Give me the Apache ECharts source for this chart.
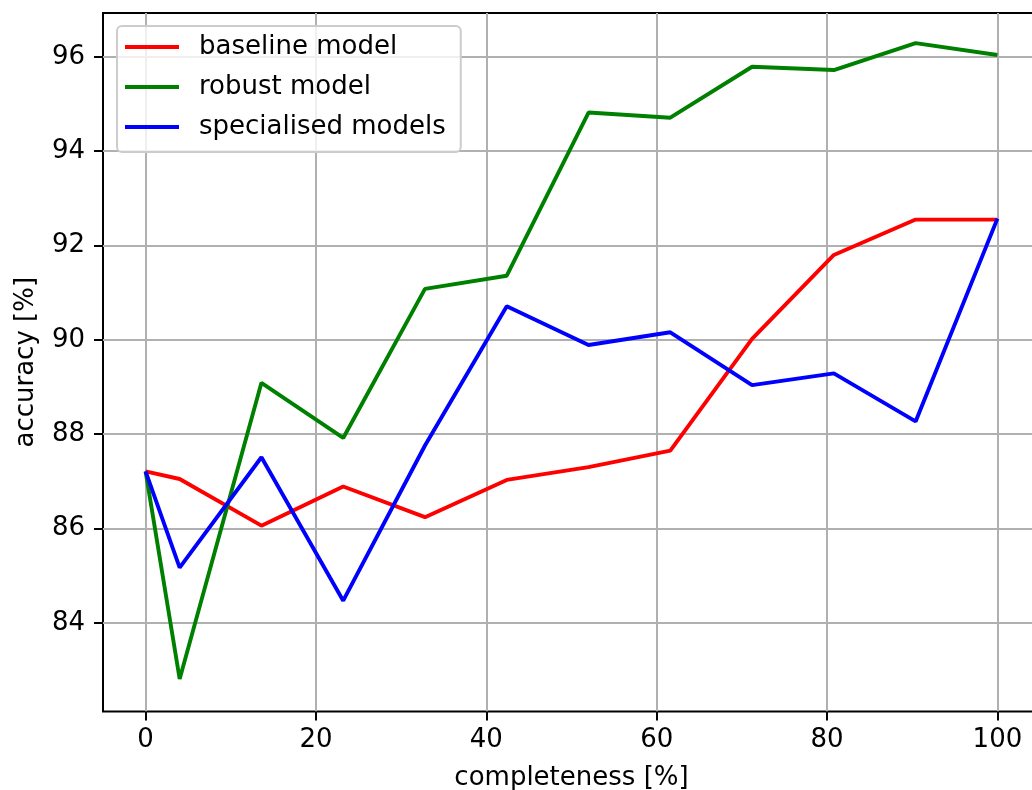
<!DOCTYPE html>
<html>
<head>
<meta charset="utf-8">
<script src="https://cdn.jsdelivr.net/npm/echarts@6/dist/echarts.min.js"></script>
<style>
html,body{margin:0;padding:0;background:#fff;}
#chart{width:1032px;height:790px;}
</style>
</head>
<body>
<div id="chart"></div>
<script>
const completeness = [0, 4, 13.6, 23.2, 32.8, 42.4, 52, 61.6, 71.2, 80.8, 90.4, 100];
const baselineModel = [87.21, 87.05, 86.06, 86.89, 86.24, 87.03, 87.30, 87.65, 90.02, 91.80, 92.55, 92.55];
const robustModel = [87.21, 82.81, 89.09, 87.92, 91.08, 91.36, 94.82, 94.71, 95.79, 95.72, 96.29, 96.04];
const specialisedModels = [87.21, 85.17, 87.51, 84.47, 87.76, 90.71, 89.89, 90.16, 89.04, 89.29, 88.27, 92.57];
const xTicks = [0, 20, 40, 60, 80, 100];
const yTicks = [84, 86, 88, 90, 92, 94, 96];
const seriesNames = ['baseline model', 'robust model', 'specialised models'];

const FONT = 'DejaVu Sans';
const FS = 26;
const TXT = '#000000';
const pairs = ys => completeness.map((x, i) => [x, ys[i]]);

const chart = echarts.init(document.getElementById('chart'), null, {renderer: 'canvas'});
chart.setOption({
  animation: false,
  backgroundColor: '#ffffff',
  textStyle: {fontFamily: FONT},
  grid: {
    left: 103, top: 13, right: -8, bottom: 78.5,
    containLabel: false, outerBoundsMode: 'none',
    show: true, borderColor: '#000000', borderWidth: 2, backgroundColor: 'transparent'
  },
  legend: {
    orient: 'vertical',
    left: 117, top: 26,
    icon: 'rect',
    itemWidth: 54, itemHeight: 4,
    itemGap: 10,
    padding: [6, 15, 10, 8],
    backgroundColor: 'rgba(255,255,255,0.8)',
    borderColor: '#cccccc', borderWidth: 2, borderRadius: 5,
    textStyle: {fontFamily: FONT, fontSize: FS, color: TXT, lineHeight: 30, padding: [0, 0, 0, 15]},
    data: seriesNames
  },
  xAxis: {
    type: 'value', min: -5, max: 105,
    name: 'completeness [%]', nameLocation: 'middle', nameGap: 54,
    nameTextStyle: {fontFamily: FONT, fontSize: FS, color: TXT},
    axisLine: {show: false, onZero: false},
    axisTick: {show: true, inside: false, length: 9, lineStyle: {color: '#000', width: 2}, customValues: xTicks},
    axisLabel: {fontFamily: FONT, fontSize: FS, color: TXT, margin: 16, customValues: xTicks},
    splitLine: {show: true, lineStyle: {color: '#b0b0b0', width: 2}}
  },
  yAxis: {
    type: 'value', min: 82.12, max: 96.93,
    name: 'accuracy [%]', nameLocation: 'middle', nameGap: 64, nameRotate: 90,
    nameTextStyle: {fontFamily: FONT, fontSize: FS, color: TXT},
    axisLine: {show: false, onZero: false},
    axisTick: {show: true, inside: false, length: 9, lineStyle: {color: '#000', width: 2}, customValues: yTicks},
    axisLabel: {fontFamily: FONT, fontSize: FS, color: TXT, margin: 18, customValues: yTicks},
    splitLine: {show: true, lineStyle: {color: '#b0b0b0', width: 2}}
  },
  series: [
    {name: seriesNames[0], type: 'line', data: pairs(baselineModel), showSymbol: false, color: '#ff0000', lineStyle: {width: 3.9, color: '#ff0000'}},
    {name: seriesNames[1], type: 'line', data: pairs(robustModel), showSymbol: false, color: '#008000', lineStyle: {width: 3.9, color: '#008000'}},
    {name: seriesNames[2], type: 'line', data: pairs(specialisedModels), showSymbol: false, color: '#0000ff', lineStyle: {width: 3.9, color: '#0000ff'}}
  ]
});
</script>
</body>
</html>
